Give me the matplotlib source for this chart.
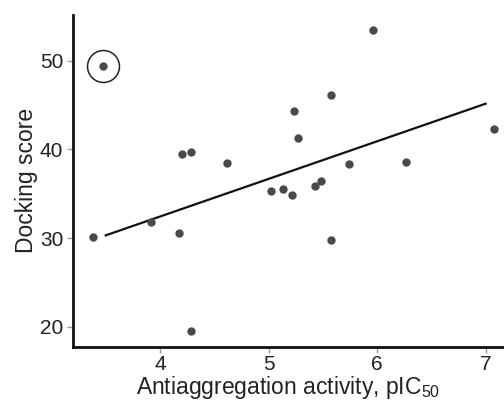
import matplotlib
matplotlib.use("Agg")
import matplotlib.pyplot as plt

plt.rcParams['font.family'] = ['Liberation Sans', 'DejaVu Sans']
plt.rcParams['mathtext.fontset'] = 'custom'
plt.rcParams['mathtext.rm'] = 'Liberation Sans'
plt.rcParams['mathtext.it'] = 'Liberation Sans:italic'

# Data
activity = [3.475, 5.966, 5.572, 5.231, 5.274, 7.074, 4.203, 4.286, 4.618, 5.745,
            6.27, 5.024, 5.135, 5.218, 5.43, 5.487, 3.382, 3.914, 4.172, 5.572, 4.286]
docking = [49.4, 53.5, 46.13, 44.36, 41.24, 42.3, 39.44, 39.73, 38.49, 38.34,
           38.6, 35.3, 35.49, 34.88, 35.86, 36.39, 30.07, 31.76, 30.52, 29.8, 19.5]
outlier_x = [3.475]
outlier_y = [49.4]
fit_x = [3.5, 7.0]
fit_y = [30.3, 45.15]
xticks = [4, 5, 6, 7]
yticks = [20, 30, 40, 50]

fig = plt.figure(figsize=(5.04, 4.05), dpi=100)
ax = fig.add_axes([0.1448, 0.144, 0.8552, 0.819])

ax.plot(activity, docking, 'o', color='#4a4a4a', markersize=6, markeredgewidth=0, zorder=3)
ax.plot(outlier_x, outlier_y, 'o', markerfacecolor='none', markeredgecolor='#222222',
        markersize=23, markeredgewidth=1.1, zorder=3)
ax.plot(fit_x, fit_y, '-', color='#111111', linewidth=1.6, zorder=2)

ax.set_xlim(3.198, 7.17)
ax.set_ylim(17.74, 55.16)
ax.set_xticks(xticks)
ax.set_yticks(yticks)
ax.set_xticklabels([str(t) for t in xticks])
ax.set_yticklabels([str(t) for t in yticks])

for s in ['top', 'right']:
    ax.spines[s].set_visible(False)
for s in ['left', 'bottom']:
    ax.spines[s].set_linewidth(2.0)
    ax.spines[s].set_color('#111111')

ax.tick_params(axis='both', direction='out', length=4, width=1, color='#999999',
               labelsize=15, labelcolor='#222222', pad=3)
ax.tick_params(axis='x', pad=2)

ax.set_xlabel(r'Antiaggregation activity, pIC$_{50}$', fontsize=16.5, color='#222222', labelpad=0)
ax.set_ylabel('Docking score', fontsize=16.5, color='#222222', labelpad=1)

fig.savefig('out.png', dpi=100)
